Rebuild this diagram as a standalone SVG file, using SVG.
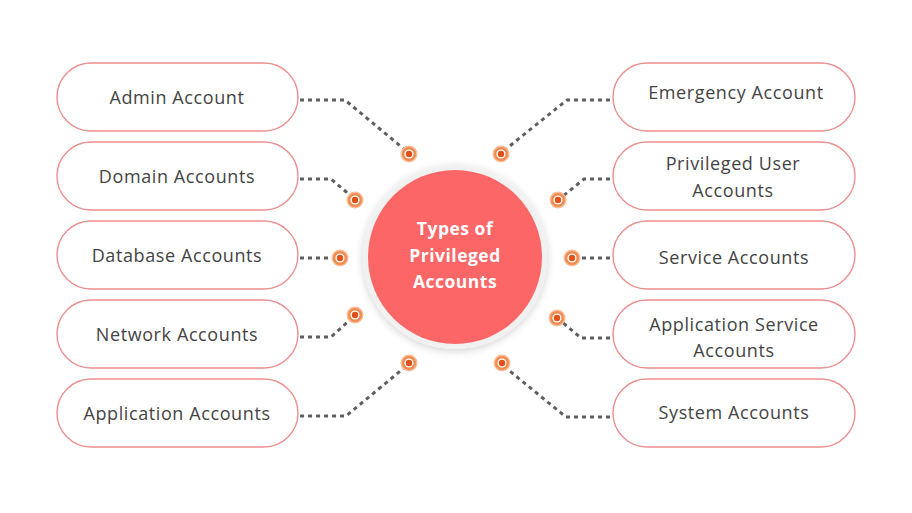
<svg xmlns="http://www.w3.org/2000/svg" width="912" height="513" viewBox="0 0 912 513">
<defs>
<style>
.box{fill:#fff;stroke:#ec8f8f;stroke-width:1.4}
.lbl{font-family:"Open Sans","Liberation Sans",sans-serif;font-size:18px;letter-spacing:0.6px;fill:#444;text-anchor:middle;font-weight:500}
.ctr{font-family:"Open Sans","Liberation Sans",sans-serif;font-size:17.5px;letter-spacing:0.5px;fill:#fff;text-anchor:middle;font-weight:700}
.con{fill:none;stroke:#5f5f5f;stroke-width:3;stroke-dasharray:4 4}
</style>
<filter id="sh" x="-30%" y="-30%" width="160%" height="160%">
<feGaussianBlur in="SourceAlpha" stdDeviation="4"/>
<feOffset dx="0" dy="2"/>
<feComponentTransfer><feFuncA type="linear" slope="0.18"/></feComponentTransfer>
<feMerge><feMergeNode/><feMergeNode in="SourceGraphic"/></feMerge>
</filter>
<g id="dot">
<circle r="8.5" fill="#f9bd98"/>
<circle r="7" fill="#f08a4e"/>
<circle r="4.6" fill="#fff"/>
<circle r="3.2" fill="#e2501a"/>
</g>
</defs>
<rect width="912" height="513" fill="#fff"/>
<g id="connectors">
<path class="con" d="M300 100 H345 L404 149"/>
<path class="con" d="M300 179 H331 L351 196"/>
<path class="con" d="M300 258 H334"/>
<path class="con" d="M300 337 H331 L351 319"/>
<path class="con" d="M300 416 H346 L404 368"/>
<path class="con" d="M610 100 H567 L506 149"/>
<path class="con" d="M610 179 H584 L563 196"/>
<path class="con" d="M610 258 H578"/>
<path class="con" d="M610 338 H581 L562 322"/>
<path class="con" d="M610 417 H566 L506 368"/>
</g>
<g id="dots">
<use href="#dot" x="409" y="154"/>
<use href="#dot" x="355" y="200"/>
<use href="#dot" x="340" y="258"/>
<use href="#dot" x="355" y="315"/>
<use href="#dot" x="409" y="363"/>
<use href="#dot" x="501" y="154"/>
<use href="#dot" x="558" y="200"/>
<use href="#dot" x="572" y="258"/>
<use href="#dot" x="557" y="318"/>
<use href="#dot" x="502" y="363"/>
</g>
<g id="center">
<circle cx="455" cy="257" r="92" fill="#f1f1f1" filter="url(#sh)"/>
<circle cx="455" cy="257" r="87" fill="#fd6667"/>
<text class="ctr" x="455" y="235">Types of</text>
<text class="ctr" x="455" y="262">Privileged</text>
<text class="ctr" x="455" y="288">Accounts</text>
</g>
<g id="admin"><rect class="box" x="57" y="63" width="241" height="68" rx="34"/><text class="lbl" x="177" y="104">Admin Account</text></g>
<g id="domain"><rect class="box" x="57" y="142" width="241" height="68" rx="34"/><text class="lbl" x="177" y="183">Domain Accounts</text></g>
<g id="database"><rect class="box" x="57" y="221" width="241" height="68" rx="34"/><text class="lbl" x="177" y="262">Database Accounts</text></g>
<g id="network"><rect class="box" x="57" y="300" width="241" height="68" rx="34"/><text class="lbl" x="177" y="341">Network Accounts</text></g>
<g id="application"><rect class="box" x="57" y="379" width="241" height="68" rx="34"/><text class="lbl" x="177" y="420">Application Accounts</text></g>
<g id="emergency"><rect class="box" x="613" y="63" width="242" height="68" rx="34"/><text class="lbl" x="736" y="99">Emergency Account</text></g>
<g id="privileged-user"><rect class="box" x="613" y="142" width="242" height="68" rx="34"/><text class="lbl" x="733" y="170">Privileged User</text><text class="lbl" x="733" y="197">Accounts</text></g>
<g id="service"><rect class="box" x="613" y="221" width="242" height="68" rx="34"/><text class="lbl" x="734" y="264">Service Accounts</text></g>
<g id="application-service"><rect class="box" x="613" y="300" width="242" height="68" rx="34"/><text class="lbl" x="734" y="331">Application Service</text><text class="lbl" x="734" y="357">Accounts</text></g>
<g id="system"><rect class="box" x="613" y="379" width="242" height="68" rx="34"/><text class="lbl" x="734" y="419">System Accounts</text></g>
</svg>
